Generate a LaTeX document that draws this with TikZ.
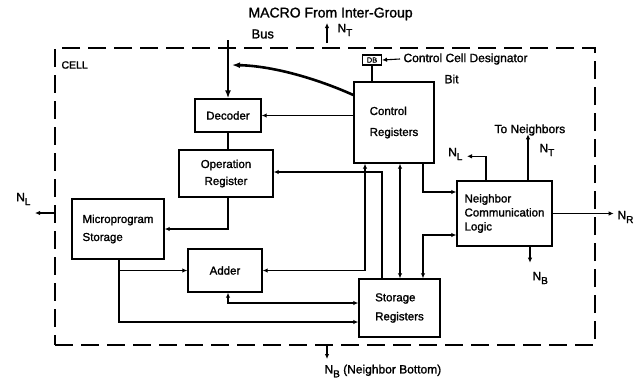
\documentclass[tikz,border=0pt]{standalone}
\usepackage{fontspec}
\setmainfont{Liberation Sans}[UprightFeatures={FakeBold=1.4}]
\usetikzlibrary{arrows.meta, positioning, calc}
\newcommand{\Nsub}[1]{N\raisebox{-0.6ex}{\fontsize{10}{10}\selectfont #1}}

\begin{document}
\begin{tikzpicture}[x=1pt,y=-1pt,
  every node/.style={font=\fontsize{12}{14}\selectfont},
  blk/.style={draw, line width=1.4pt, inner sep=2pt, align=left,
    font=\fontsize{11.5}{19}\selectfont},
  wire/.style={line width=1.1pt, -{Latex[length=5pt,width=4.5pt]}},
  wire2/.style={line width=1.1pt, {Latex[length=5pt,width=4.5pt]}-{Latex[length=5pt,width=4.5pt]}},
  plainwire/.style={line width=1.1pt},
  bus/.style={line width=2.6pt, -{Latex[length=8pt,width=6pt]}},
  celledge/.style={draw, line width=2pt, dash pattern=on 18pt off 8pt}]
\useasboundingbox (0,0) rectangle (640,381);
% the cell boundary
\node[celledge, minimum width=540, minimum height=297] (cell) at (325,196.5) {};
\node[anchor=west, font=\fontsize{10.5}{12}\selectfont] (celllbl) at (58,65) {CELL};
% blocks
\node[blk, minimum width=66, minimum height=33] (dec) at (228,115.5) {Decoder};
\node[blk, align=center, minimum width=94, minimum height=47, font=\fontsize{11.5}{17}\selectfont] (opreg) at (226,173.5) {Operation\\Register};
\node[blk, minimum width=92, minimum height=60, font=\fontsize{11.5}{18}\selectfont] (mps) at (118,229) {Microprogram\\Storage};
\node[blk, minimum width=74, minimum height=43] (add) at (225,270.5) {Adder};
\node[blk, minimum width=80, minimum height=81, font=\fontsize{11.5}{21}\selectfont] (creg) at (394,122.5) {Control\\Registers};
\node[blk, minimum width=81, minimum height=58] (sreg) at (399.5,308) {Storage\\Registers};
\node[blk, minimum width=95, minimum height=65, font=\fontsize{11.5}{14}\selectfont] (ncl) at (504.5,213.5) {Neighbor\\Communication\\Logic};
\node[draw, line width=1.1pt, inner sep=0.5pt, minimum width=19, minimum height=10, font=\fontsize{7.5}{7.5}\selectfont] (db) at (372,60) {DB};
% MACRO bus from the inter-group bus
\node[anchor=west, font=\fontsize{14}{16}\selectfont] (macro) at (245,14) {MACRO From Inter-Group};
\node[anchor=west, font=\fontsize{13}{15}\selectfont] (buslbl) at (248,34) {Bus};
\coordinate (busin) at (228,40);
\coordinate (busjoin) at (232,65);
\draw[bus] (busin) -- (dec.north);
\draw[bus] ([yshift=27.5]creg.west) .. controls (320,80) and (275,66) .. (busjoin);
\node[anchor=west] (ntop) at (334,30) {\Nsub{T}};
\draw[wire] ([xshift=2,yshift=4]cell.north) -- ++(0,-20);
% control cell designator bit
\node[anchor=west] (cdtxt) at (400,59) {Control Cell Designator};
\node[anchor=west] (bitlbl) at (441,79) {Bit};
\draw[wire] (cdtxt.west) -- (db.east);
\draw[plainwire] (db.south) -- (db.south |- creg.north);
% inside the cell
\draw[wire] (creg.west |- dec.east) -- (dec.east);
\draw[plainwire] (dec.south) -- (dec.south |- opreg.north);
\draw[wire] (dec.south |- opreg.south) |- (mps.east);
\draw[wire] ([xshift=1]mps.south) |- (add.west);
\draw[wire] ([xshift=1]mps.south) |- ([yshift=-14]sreg.west);
\draw[wire2] ([xshift=3]add.south) |- ([yshift=5]sreg.west);
\draw[wire2] ([xshift=-29]creg.south) |- (add.east);
\draw[wire] ([xshift=-17.5]sreg.north) |- ([yshift=1.5]opreg.east);
\draw[wire2] ([xshift=6]creg.south) -- ([xshift=6]creg.south |- sreg.north);
\draw[wire] ([xshift=29]creg.south) |- ([yshift=21.5]ncl.west);
\draw[wire2] ([xshift=23.5]sreg.north) |- ([yshift=-21.5]ncl.west);
% to the neighbors
\node[anchor=west] (tonb) at (491,130) {To Neighbors};
\node[anchor=west] (nt) at (536,150) {\Nsub{T}};
\node[anchor=east] (nl) at (466,154) {\Nsub{L}};
\node[anchor=west] (nb) at (529,278) {\Nsub{B}};
\node[anchor=west] (nr) at (614,217) {\Nsub{R}};
\node[anchor=east] (nlout) at (34,199) {\Nsub{L}};
\node[anchor=west] (nbout) at (321,371) {\Nsub{B} (Neighbor Bottom)};
\draw[wire] ([xshift=23.5]ncl.north) -- ++(0,-46);
\draw[wire] ([xshift=-18.5]ncl.north) |- ++(-19,-24);
\draw[wire] ([xshift=25.5]ncl.south) -- ++(0,16);
\draw[wire] (ncl.east) -- ++(61,0);
\draw[wire] ([yshift=-16.5]cell.west) -- ++(-19,0);
\draw[wire] ([xshift=2]cell.south) -- ++(0,13);
\end{tikzpicture}
\end{document}
